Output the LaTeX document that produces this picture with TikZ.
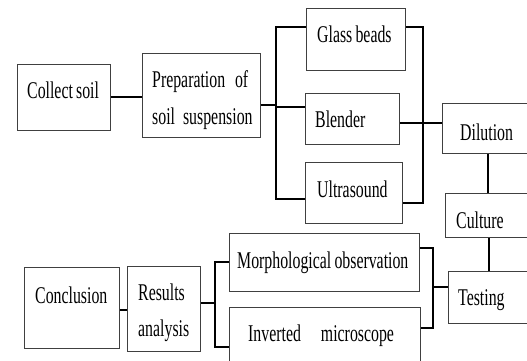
\documentclass[tikz,border=0pt]{standalone}
\usepackage{fontspec}
\setmainfont{Liberation Serif}[FakeStretch=0.66,WordSpace=0.8]
\begin{document}
\begin{tikzpicture}[x=1pt,y=-1pt,
  box/.style={draw=black!75, line width=1.1pt, rectangle, anchor=north west, inner sep=0pt, fill=white},
  conn/.style={line width=2.2pt, black},
  lbl/.style={inner sep=0pt, anchor=base west, font=\fontsize{24}{36.5}\selectfont, text=black}]
\useasboundingbox (0,0) rectangle (527,361);
\clip (0,0) rectangle (527,361);
% boxes
\node[box, minimum width=93pt, minimum height=66pt] (collect) at (17,64) {};
\node[box, minimum width=118pt, minimum height=84pt] (prep) at (142,53) {};
\node[box, minimum width=99pt, minimum height=62pt] (glass) at (306,8) {};
\node[box, minimum width=94pt, minimum height=51pt] (blender) at (305,93) {};
\node[box, minimum width=97pt, minimum height=61pt] (ultra) at (305,162) {};
\node[box, minimum width=130pt, minimum height=50pt] (dil) at (442,103) {};
\node[box, minimum width=130pt, minimum height=44pt] (cult) at (445,193) {};
\node[box, minimum width=130pt, minimum height=52pt] (test) at (448,271) {};
\node[box, minimum width=190pt, minimum height=58pt] (morph) at (229,233) {};
\node[box, minimum width=191pt, minimum height=80pt] (inv) at (229,307) {};
\node[box, minimum width=73pt, minimum height=85pt] (res) at (127,266) {};
\node[box, minimum width=95pt, minimum height=81pt] (concl) at (24,267) {};
% labels
\node[lbl] (tcollect) at (27,98) {Collect soil};
\node[lbl, text width=96pt] (tprep) at (152,88) {\makebox[96pt][s]{Preparation\hfill of}\\\mbox{soil suspension}};
\node[lbl] (tglass) at (317,43) {Glass beads};
\node[lbl] (tblender) at (315,127) {Blender};
\node[lbl] (tultra) at (317,197) {Ultrasound};
\node[lbl] (tdil) at (460,140) {Dilution};
\node[lbl] (tcult) at (456,228) {Culture};
\node[lbl] (ttest) at (458,305) {Testing};
\node[lbl] (tmorph) at (237,268) {Morphological observation};
\node[lbl] (tinv) at (248,341) {Inverted\hspace{20pt}microscope};
\node[lbl, text width=60pt] (tres) at (138,300) {Results\\analysis};
\node[lbl] (tconcl) at (35,303) {Conclusion};
% junction coordinates
\coordinate (jl) at (276,105);
\coordinate (jr) at (423,123);
\coordinate (jm) at (433,287);
\coordinate (jb) at (215,303);
% connectors
\draw[conn] (collect.east |- 0,97) -- (prep.west |- 0,97);
\draw[conn] (prep.east |- jl) -- (jl);
\draw[conn] (glass.west |- 0,27) -| (jl |- 0,199) -- (ultra.west |- 0,199);
\draw[conn] (jl |- 0,107) -- (blender.west |- 0,107);
\draw[conn] (glass.east |- 0,27) -| (jr |- 0,203) -- (ultra.east |- 0,203);
\draw[conn] (blender.east |- jr) -- (dil.west |- jr);
\draw[conn, line width=1.6pt] (dil.south -| 488,0) -- (cult.north -| 488,0);
\draw[conn, line width=1.6pt] (cult.south -| 489,0) -- (test.north -| 489,0);
\draw[conn] (morph.east |- 0,248) -| (jm |- 0,328) -- (inv.east |- 0,328);
\draw[conn] (jm) -- (test.west |- jm);
\draw[conn] (res.east |- jb) -- (jb);
\draw[conn] (morph.west |- 0,262) -| (jb |- 0,347) -- (inv.west |- 0,347);
\draw[conn] (concl.east |- 0,310) -- (res.west |- 0,310);
\end{tikzpicture}
\end{document}
